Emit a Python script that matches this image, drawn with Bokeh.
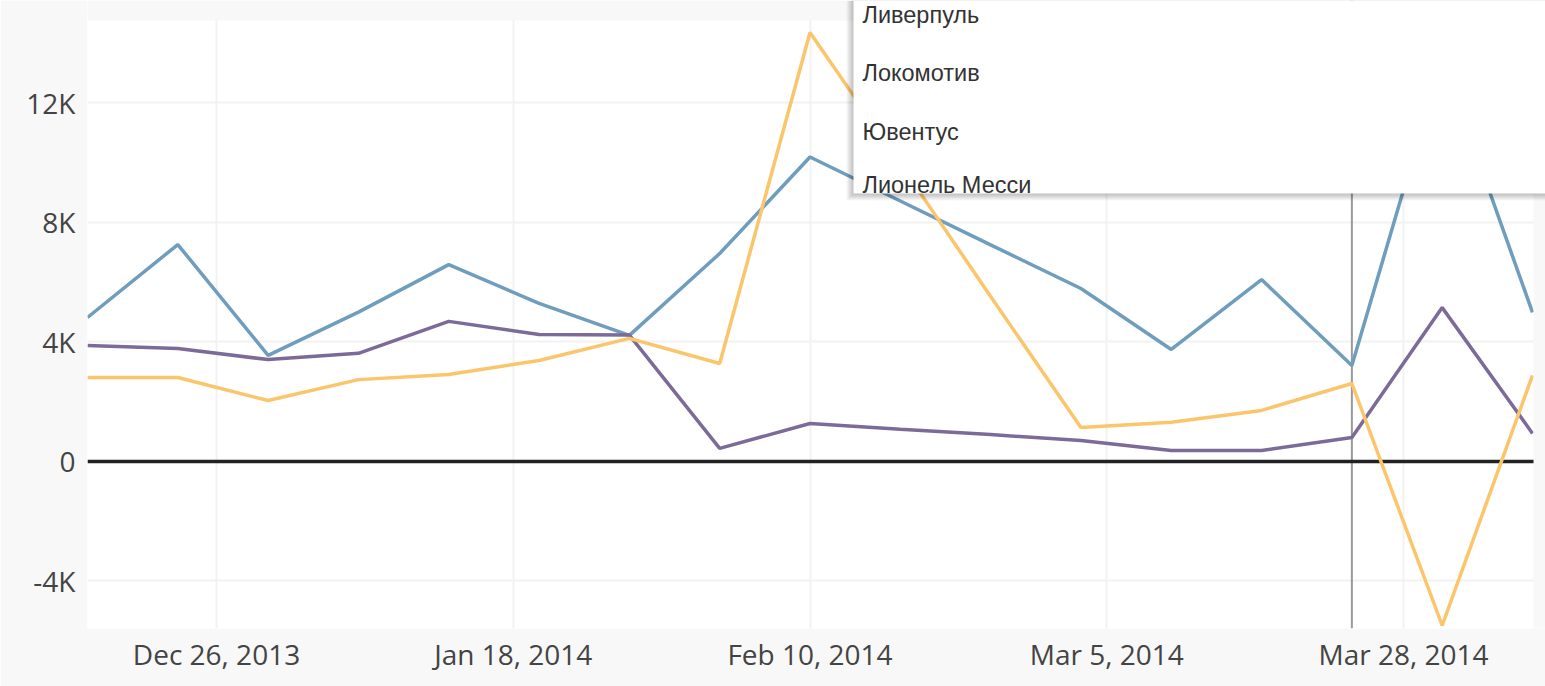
import pandas as pd
from bokeh.plotting import figure
from bokeh.models import FixedTicker, Span, BoxAnnotation, Label, Range1d
from bokeh.embed import file_html
from bokeh.resources import INLINE

# ---- data ----
dates = ["2013-12-16", "2013-12-23", "2013-12-30", "2014-01-06", "2014-01-13",
         "2014-01-20", "2014-01-27", "2014-02-03", "2014-02-10", "2014-02-17",
         "2014-02-24", "2014-03-03", "2014-03-10", "2014-03-17", "2014-03-24",
         "2014-03-31", "2014-04-07"]
blue_series = [4820, 7260, 3550, 5000, 6590, 5290, 4220, 6960, 10190, 8720,
               7250, 5790, 3750, 6090, 3210, 13490, 4990]
purple_series = [3880, 3780, 3410, 3620, 4690, 4250, 4230, 440, 1270, 1080,
                 900, 700, 370, 370, 800, 5150, 940]
orange_series = [2810, 2810, 2040, 2740, 2910, 3380, 4120, 3280, 14360, 9970,
                 5520, 1140, 1310, 1710, 2610, -5490, 2880]

tick_dates = ["2013-12-26", "2014-01-18", "2014-02-10", "2014-03-05", "2014-03-28"]
tick_labels = ["Dec 26, 2013", "Jan 18, 2014", "Feb 10, 2014", "Mar 5, 2014", "Mar 28, 2014"]
y_ticks = [-4000, 0, 4000, 8000, 12000]
y_labels = ["-4K", "0", "4K", "8K", "12K"]
menu_items = ["Ливерпуль", "Локомотив", "Ювентус", "Лионель Месси"]
hover_date = "2014-03-24"

y_min, y_max = -5590, 14760   # visible plot-area value range

# ---- geometry (page px) ----
W, H = 1545, 686
PL, PR, PT, PB = 87, 1532, 20, 628     # white plot area edges
FL, FT, FB = PL, 0, H - PB              # frame extends to top / right edge

EPOCH = pd.Timestamp("1970-01-01")
def ms(d):
    return int((pd.Timestamp(d) - EPOCH) / pd.Timedelta(milliseconds=1))

x = pd.to_datetime(dates)
x0, x1 = ms(dates[0]), ms(dates[-1])
pw, ph = PR - PL, PB - PT

def xd(px):   # page px -> data x (decorations only)
    return x0 + (px - PL) / pw * (x1 - x0)
def yd(py):   # page px -> data y (decorations only)
    return y_max - (py - PT) / ph * (y_max - y_min)

p = figure(width=W, height=H, x_axis_type="datetime", output_backend="svg",
           toolbar_location=None,
           x_range=Range1d(x0, xd(W)), y_range=Range1d(y_min, yd(0)),
           min_border_left=FL, min_border_right=0, min_border_top=FT, min_border_bottom=FB)
p.border_fill_color = "#f8f8f8"
p.background_fill_color = "#ffffff"
p.outline_line_color = None

# axes
p.xaxis.ticker = FixedTicker(ticks=[ms(d) for d in tick_dates])
p.xaxis.major_label_overrides = {ms(d): lab for d, lab in zip(tick_dates, tick_labels)}
p.yaxis.ticker = FixedTicker(ticks=y_ticks)
p.yaxis.major_label_overrides = {t: lab for t, lab in zip(y_ticks, y_labels)}
for ax in (p.xaxis, p.yaxis):
    ax.axis_line_color = None
    ax.major_tick_line_color = None
    ax.minor_tick_line_color = None
    ax.major_tick_out = 0
    ax.major_label_text_font = "Open Sans"
    ax.major_label_text_font_size = "28px"
    ax.major_label_text_color = "#444444"
p.xaxis.major_label_standoff = 6
p.yaxis.major_label_standoff = 12

p.grid.grid_line_color = "#f2f2f2"
p.grid.grid_line_width = 2

# hover line and zero line
p.add_layout(Span(location=ms(hover_date), dimension="height", line_color="#9a9a9a",
                  line_width=2, level="underlay"))
p.add_layout(Span(location=0, dimension="width", line_color="#222222",
                  line_width=3.5, level="underlay"))

# series
p.line(x, blue_series, line_color="#6e9dbd", line_width=3.5)
p.line(x, purple_series, line_color="#7c6b98", line_width=3.5)
p.line(x, orange_series, line_color="#fbc56c", line_width=3.5)

# grey page background outside the white plot area (top strip, right strip)
p.add_layout(BoxAnnotation(bottom=yd(PT), fill_color="#f8f8f8", fill_alpha=1.0,
                           line_color=None, level="annotation"))
p.add_layout(BoxAnnotation(left=xd(PR + 1), fill_color="#f8f8f8", fill_alpha=1.0,
                           line_color=None, level="annotation"))

# dropdown menu box with shadow
box_l, box_b = 853, 193
for k in range(7, 0, -1):
    p.add_layout(BoxAnnotation(left=xd(box_l - k), bottom=yd(box_b + k),
                               fill_color="black", fill_alpha=0.035,
                               line_color=None, level="overlay"))
p.add_layout(BoxAnnotation(left=xd(box_l), bottom=yd(box_b), fill_color="white",
                           fill_alpha=1.0, line_color=None, level="overlay"))
baselines = [14, 72, 131, 184]
for item, b in zip(menu_items, baselines):
    p.add_layout(Label(x=xd(862), y=yd(b), text=item, text_font="Liberation Sans",
                       text_font_size="23.5px", text_color="#333333",
                       text_baseline="alphabetic", text_align="left", level="overlay"))

open("out.html", "w").write(file_html(p, INLINE))
